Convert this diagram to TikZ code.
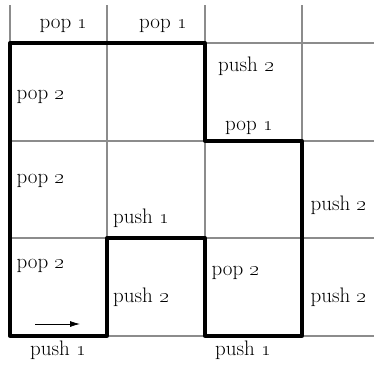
\documentclass[tikz,border=0pt]{standalone}
\usetikzlibrary{arrows.meta}
\begin{document}
\begin{tikzpicture}[x=1pt,y=-1pt,
  gridline/.style={draw=black!45,line width=1.2pt},
  pathline/.style={draw=black,line width=3.3pt,line join=round,line cap=round},
  lbl/.style={inner sep=0pt,font=\fontsize{21}{25}\selectfont}]
\useasboundingbox (0,0) rectangle (374,365);
% grid
\foreach \x in {10,107,205,302} \draw[gridline] (\x,5) -- (\x,336);
\foreach \y in {43,141,238,336} \draw[gridline] (10,\y) -- (374,\y);
% thick path
\draw[pathline] (10,336) -- (10,43) -- (205,43) -- (205,141) -- (302,141) -- (302,336)
  -- (205,336) -- (205,238) -- (107,238) -- (107,336) -- cycle;
% arrow
\coordinate (as) at (35,324);
\coordinate (ae) at (80,324);
\draw[-{Latex[length=10pt,width=6pt]},line width=0.8pt] (as) -- (ae);
% labels
\newcommand{\one}{\oldstylenums{1}}
\newcommand{\two}{\oldstylenums{2}}
\node[lbl] (t1) at (63.5,26) {pop \one};
\node[lbl] (t2) at (163,26) {pop \one};
\node[lbl] (a1) at (40.5,97) {pop \two};
\node[lbl] (a2) at (246,66) {push \two};
\node[lbl] (a3) at (249,128) {pop \one};
\node[lbl] (b1) at (40.5,181) {pop \two};
\node[lbl] (b2) at (141,218) {push \one};
\node[lbl] (b3) at (338.5,205) {push \two};
\node[lbl] (c1) at (40.5,266) {pop \two};
\node[lbl] (c2) at (141,297) {push \two};
\node[lbl] (c3) at (235.5,273) {pop \two};
\node[lbl] (c4) at (338.5,297) {push \two};
\node[lbl] (d1) at (58,350) {push \one};
\node[lbl] (d3) at (243,350) {push \one};
\end{tikzpicture}
\end{document}
